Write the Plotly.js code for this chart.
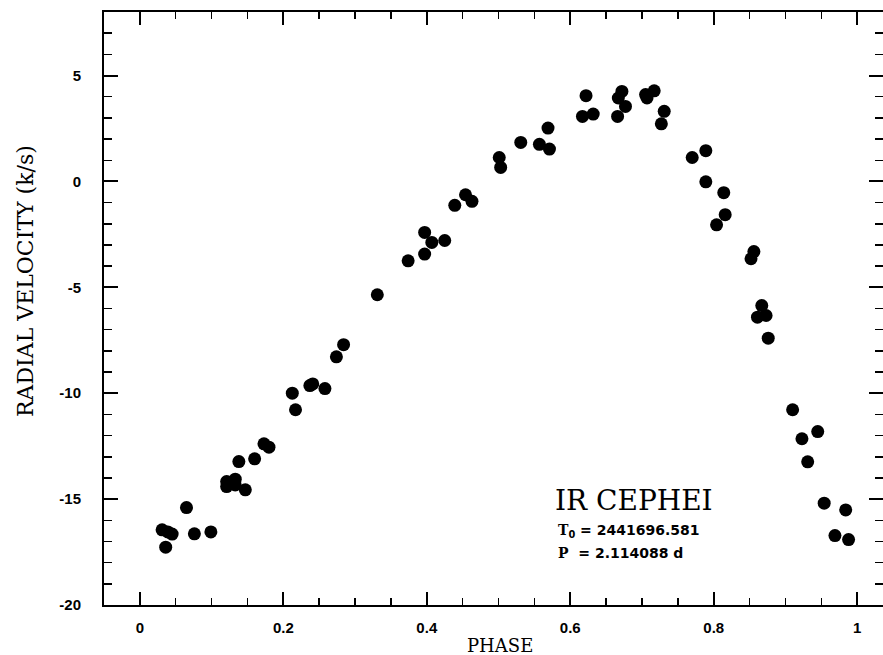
<!DOCTYPE html>
<html>
<head>
<meta charset="utf-8">
<script src="https://cdn.plot.ly/plotly-3.0.1.min.js"></script>
<style>html,body{margin:0;padding:0;background:#fff;overflow:hidden}</style>
</head>
<body>
<div id="chart" style="width:883px;height:655px"></div>
<script>
const phase = [0.031,0.036,0.039,0.045,0.065,0.076,0.099,0.121,0.121,0.133,0.133,0.138,0.147,0.160,0.173,0.180,
  0.2125,0.217,0.237,0.241,0.258,0.274,0.284,0.331,0.374,0.397,0.397,0.407,0.425,0.439,0.454,0.463,
  0.501,0.503,0.531,0.557,0.569,0.571,0.617,0.622,0.632,0.666,0.667,0.672,0.677,0.705,0.707,0.717,0.727,0.731,
  0.770,0.789,0.789,0.804,0.814,0.816,0.852,0.856,0.861,0.867,0.873,0.876,
  0.910,0.923,0.931,0.945,0.954,0.969,0.984,0.988];
const velocity = [-16.45,-17.27,-16.55,-16.65,-15.4,-16.64,-16.55,-14.17,-14.41,-14.06,-14.33,-13.23,-14.56,-13.1,-12.39,-12.55,
  -10.0,-10.78,-9.64,-9.56,-9.78,-8.28,-7.71,-5.35,-3.75,-3.43,-2.41,-2.88,-2.79,-1.13,-0.63,-0.94,
  1.13,0.66,1.84,1.75,2.52,1.53,3.07,4.05,3.18,3.07,3.94,4.25,3.54,4.10,3.94,4.28,2.72,3.31,
  1.13,1.45,-0.02,-2.05,-0.53,-1.57,-3.65,-3.31,-6.41,-5.86,-6.33,-7.40,
  -10.78,-12.15,-13.24,-11.81,-15.19,-16.72,-15.51,-16.91];
const xTicks = [0, 0.2, 0.4, 0.6, 0.8, 1];
const xTickLabels = ["0", "0.2", "0.4", "0.6", "0.8", "1"];
const yTicks = [-20, -15, -10, -5, 0, 5];
const yTickLabels = ["-20", "-15", "-10", "-5", "0", "5"];
const starName = "IR CEPHEI";
const epochText = "2441696.581";
const periodText = "2.114088 d";

const serif = "DejaVu Serif, serif";
const sans = "Liberation Sans, Arial, sans-serif";
const boldSans = "DejaVu Sans, sans-serif";

const trace = {
  x: phase, y: velocity, type: 'scatter', mode: 'markers',
  marker: {color: '#000', size: 13, line: {width: 0}},
  hoverinfo: 'skip'
};

const axisCommon = {
  showline: true, linecolor: '#000', linewidth: 2, mirror: 'ticks',
  ticks: 'inside', tickcolor: '#000', tickwidth: 2,
  showgrid: false, zeroline: false,
  tickfont: {family: sans, size: 15, color: '#000', weight: 'bold'}
};

const annX = (556 - 104) / 779;

const layout = {
  width: 883, height: 655,
  margin: {l: 104, r: 0, t: 12, b: 50},
  paper_bgcolor: '#fff', plot_bgcolor: '#fff',
  showlegend: false,
  xaxis: Object.assign({}, axisCommon, {
    range: [-0.05, 1.036], tickvals: xTicks, ticktext: xTickLabels, ticklen: 13,
    ticklabelstandoff: 8,
    minor: {dtick: 0.05, tick0: 0, ticks: 'inside', ticklen: 7, tickwidth: 1.5, tickcolor: '#000', showgrid: false}
  }),
  yaxis: Object.assign({}, axisCommon, {
    range: [-20, 8], tickvals: yTicks, ticktext: yTickLabels, ticklen: 14,
    ticklabelstandoff: 18,
    minor: {dtick: 1, tick0: 0, ticks: 'inside', ticklen: 8, tickwidth: 1.5, tickcolor: '#000', showgrid: false}
  }),
  annotations: [
    {text: 'PHASE', xref: 'paper', yref: 'paper', x: 0.508, y: -0.0675, showarrow: false,
     xanchor: 'center', yanchor: 'middle', font: {family: serif, size: 18, color: '#000'}},
    {text: 'RADIAL VELOCITY (k/s)', xref: 'paper', yref: 'paper', x: (25 - 104) / 779, y: (605 - 281) / 593, showarrow: false,
     textangle: -90, xanchor: 'center', yanchor: 'middle', font: {family: serif, size: 22, color: '#000'}},
    {text: starName, xref: 'paper', yref: 'paper', x: (553 - 104) / 779, y: (605 - 500) / 593, showarrow: false,
     xanchor: 'left', yanchor: 'middle', font: {family: serif, size: 28, color: '#000'}},
    {text: '<span style="font-family:DejaVu Serif">T</span><sub>0</sub> = ' + epochText,
     xref: 'paper', yref: 'paper', x: annX, y: (605 - 531) / 593, showarrow: false,
     xanchor: 'left', yanchor: 'middle', font: {family: boldSans, size: 14, color: '#000', weight: 'bold'}},
    {text: '<span style="font-family:DejaVu Serif">P</span>\u00a0\u00a0= ' + periodText,
     xref: 'paper', yref: 'paper', x: annX, y: (605 - 553) / 593, showarrow: false,
     xanchor: 'left', yanchor: 'middle', font: {family: boldSans, size: 14, color: '#000', weight: 'bold'}}
  ]
};

Plotly.newPlot('chart', [trace], layout, {displayModeBar: false, staticPlot: true});
</script>
</body>
</html>
